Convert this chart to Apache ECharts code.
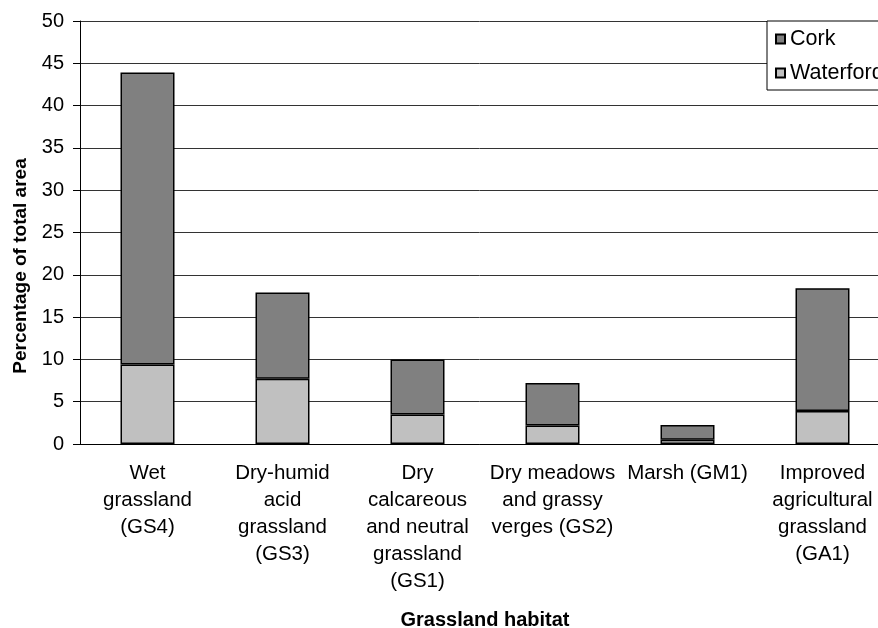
<!DOCTYPE html>
<html>
<head>
<meta charset="utf-8">
<script src="https://cdn.jsdelivr.net/npm/echarts@6/dist/echarts.min.js"></script>
<style>
  html, body { margin: 0; padding: 0; background: #fff; }
  #chart { width: 878px; height: 628px; }
</style>
</head>
<body>
<div id="chart"></div>
<script>
var categories = [
    'Wet\ngrassland\n(GS4)',
    'Dry-humid\nacid\ngrassland\n(GS3)',
    'Dry\ncalcareous\nand neutral\ngrassland\n(GS1)',
    'Dry meadows\nand grassy\nverges (GS2)',
    'Marsh (GM1)',
    'Improved\nagricultural\ngrassland\n(GA1)'
];
var waterford = [9.4, 7.7, 3.5, 2.2, 0.5, 3.9];
var cork = [34.5, 10.2, 6.5, 5.0, 1.75, 14.5];

var font = 'Liberation Sans, Arial, sans-serif';

// 基于准备好的dom，初始化echarts图表
var myChart = echarts.init(document.getElementById('chart'));

myChart.setOption({
    animation: false,
    backgroundColor: '#fff',
    grid: { left: 80, top: 21, right: -12, bottom: 184, outerBoundsMode: 'none', containLabel: false },
    legend: {
        orient: 'vertical',
        left: 767,
        top: 21,
        data: ['Cork', 'Waterford'],
        backgroundColor: '#fff',
        borderColor: '#000',
        borderWidth: 1,
        padding: [7, 20, 6, 8],
        itemGap: 12,
        itemWidth: 9,
        itemHeight: 9,
        icon: 'rect',
        textStyle: { fontFamily: font, fontSize: 21.5, color: '#000' }
    },
    xAxis: {
        type: 'category',
        data: categories,
        name: 'Grassland habitat',
        nameLocation: 'middle',
        nameGap: 166,
        nameTextStyle: { fontFamily: font, fontSize: 20, fontWeight: 'bold', color: '#000' },
        axisLine: { lineStyle: { color: '#000', width: 1 } },
        axisTick: { length: 6, lineStyle: { color: '#000' } },
        axisLabel: {
            interval: 0,
            margin: 16,
            fontFamily: font,
            fontSize: 20.5,
            lineHeight: 27,
            color: '#000'
        }
    },
    yAxis: {
        type: 'value',
        min: 0,
        max: 50,
        interval: 5,
        name: 'Percentage of total area',
        nameLocation: 'middle',
        nameGap: 50,
        nameTextStyle: { fontFamily: font, fontSize: 19, fontWeight: 'bold', color: '#000', padding: [0, 67, 0, 0] },
        axisLine: { show: true, lineStyle: { color: '#000', width: 1 } },
        axisTick: { show: true, length: 7, lineStyle: { color: '#000' } },
        axisLabel: { fontFamily: font, fontSize: 20, color: '#000', margin: 16 },
        splitLine: { lineStyle: { color: '#333', width: 1 } }
    },
    series: [
        {
            name: 'Waterford',
            type: 'bar',
            stack: 'total',
            barWidth: 54,
            data: waterford,
            itemStyle: { color: '#c0c0c0', borderColor: '#000', borderWidth: 1.5 }
        },
        {
            name: 'Cork',
            type: 'bar',
            stack: 'total',
            barWidth: 54,
            data: cork,
            itemStyle: { color: '#808080', borderColor: '#000', borderWidth: 1.5 }
        }
    ]
});
</script>
</body>
</html>
